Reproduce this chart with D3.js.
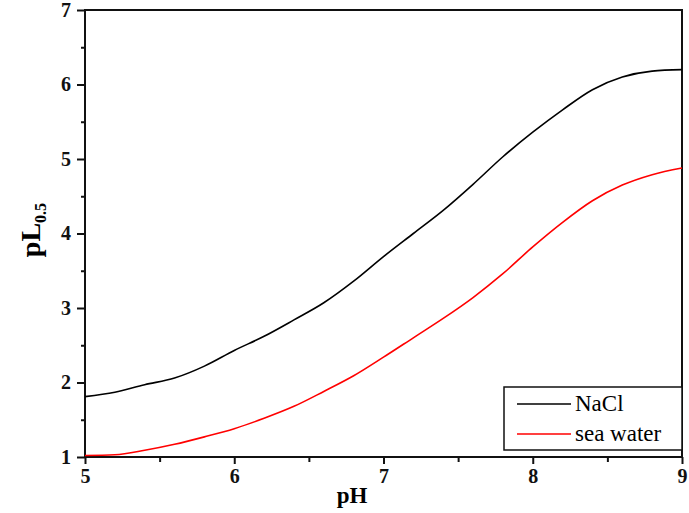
<!DOCTYPE html>
<html>
<head>
<meta charset="utf-8"/>
<style>
  body { margin: 0; background: #fff; }
  text { font-family: "Liberation Serif", "Times New Roman", serif; }
</style>
</head>
<body>
<div id="chart"></div>
<script src="https://cdn.jsdelivr.net/npm/d3@7"></script>
<script>

// data
var pH       = [5.0, 5.2, 5.4, 5.6, 5.8, 6.0, 6.2, 6.4, 6.6, 6.8, 7.0,
                7.2, 7.4, 7.6, 7.8, 8.0, 8.2, 8.4, 8.6, 8.8, 9.0];
var nacl     = [1.81, 1.87, 1.97, 2.06, 2.22, 2.43, 2.62, 2.84, 3.07, 3.36, 3.69,
                4.00, 4.31, 4.66, 5.03, 5.36, 5.66, 5.93, 6.10, 6.18, 6.20];
var seawater = [1.02, 1.03, 1.09, 1.17, 1.27, 1.38, 1.52, 1.68, 1.88, 2.09, 2.34,
                2.60, 2.86, 3.14, 3.46, 3.82, 4.15, 4.44, 4.65, 4.79, 4.88];
var xTicks = [5, 6, 7, 8, 9];
var yTicks = [1, 2, 3, 4, 5, 6, 7];
var seriesNames = ["NaCl", "sea water"];
var seriesColors = ["#000000", "#ff0000"];

var W = 689, H = 513;
var mar = {l: 85, r: 7, t: 10, b: 56};

var svg = d3.select("#chart").append("svg")
    .attr("width", W).attr("height", H);

var x = d3.scaleLinear().domain([5, 9]).range([mar.l, W - mar.r]);
var y = d3.scaleLinear().domain([1, 7]).range([H - mar.b, mar.t]);

// frame
svg.append("rect")
    .attr("x", x(5)).attr("y", y(7))
    .attr("width", x(9) - x(5)).attr("height", y(1) - y(7))
    .attr("fill", "none").attr("stroke", "#111").attr("stroke-width", 2);

function styleAxis(g) {
  g.attr("font-family", "'Liberation Serif', serif")
   .attr("font-size", 20)
   .attr("font-weight", "bold");
}

// x axis: major + minor ticks
svg.append("g")
    .attr("transform", "translate(0," + y(1) + ")")
    .call(d3.axisBottom(x).tickValues(xTicks).tickSize(7).tickPadding(5).tickFormat(d3.format("d")))
    .call(styleAxis);
svg.append("g")
    .attr("transform", "translate(0," + y(1) + ")")
    .call(d3.axisBottom(x).tickValues([5.5, 6.5, 7.5, 8.5]).tickSize(5).tickFormat(""));

svg.append("g")
    .attr("transform", "translate(" + x(5) + ",0)")
    .call(d3.axisLeft(y).tickValues(yTicks).tickSize(8).tickPadding(6).tickFormat(d3.format("d")))
    .call(styleAxis);
svg.append("g")
    .attr("transform", "translate(" + x(5) + ",0)")
    .call(d3.axisLeft(y).tickValues([1.5, 2.5, 3.5, 4.5, 5.5, 6.5]).tickSize(4).tickFormat(""));

svg.selectAll(".domain").remove();
svg.selectAll(".tick line").attr("stroke", "#111").attr("stroke-width", 2);
svg.selectAll(".tick text").attr("fill", "#111");

// curves
var line = d3.line()
    .x(function(d) { return x(d[0]); })
    .y(function(d) { return y(d[1]); })
    .curve(d3.curveMonotoneX);

[nacl, seawater].forEach(function(s, i) {
  svg.append("path")
      .datum(pH.map(function(p, j) { return [p, s[j]]; }))
      .attr("d", line)
      .attr("fill", "none")
      .attr("stroke", seriesColors[i])
      .attr("stroke-width", 1.6);
});

// axis titles
svg.append("text")
    .attr("x", 352).attr("y", 503)
    .attr("text-anchor", "middle")
    .style("font-weight", "bold").style("font-size", "23px")
    .text("pH");

var yl = svg.append("text")
    .attr("transform", "translate(40,230) rotate(-90)")
    .attr("text-anchor", "middle")
    .style("font-weight", "bold").style("font-size", "28px");
yl.append("tspan").text("pL");
yl.append("tspan").attr("dy", 6).style("font-size", "16px").text("0.5");

// legend
var lg = svg.append("g");
lg.append("rect")
    .attr("x", 504).attr("y", 387)
    .attr("width", x(9) - 504).attr("height", 63)
    .attr("fill", "#fff").attr("stroke", "#111").attr("stroke-width", 1.5);
seriesNames.forEach(function(n, i) {
  var ly = 404 + i * 30;
  lg.append("line")
      .attr("x1", 517).attr("x2", 571)
      .attr("y1", ly).attr("y2", ly)
      .attr("stroke", seriesColors[i]).attr("stroke-width", 1.6);
  lg.append("text")
      .attr("x", 575).attr("y", ly + 7)
      .style("font-size", "23px")
      .text(n);
});

</script>
</body>
</html>
